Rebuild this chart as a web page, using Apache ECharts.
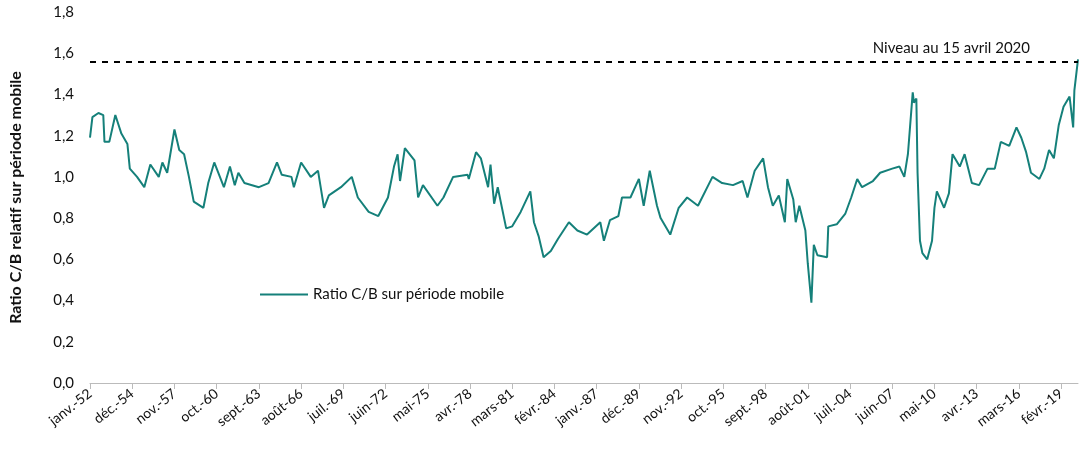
<!DOCTYPE html>
<html>
<head>
<meta charset="utf-8">
<script src="https://cdn.jsdelivr.net/npm/echarts@6/dist/echarts.min.js"></script>
<style>
  html, body { margin: 0; padding: 0; background: #fff; }
  #chart { width: 1080px; height: 452px; }
</style>
</head>
<body>
<div id="chart"></div>
<script>
// month abbreviations used for the category labels
var monthNames = ['janv.', 'févr.', 'mars', 'avr.', 'mai', 'juin', 'juil.', 'août', 'sept.', 'oct.', 'nov.', 'déc.'];
var startYear = 1952;
var monthCount = 820; // janv. 1952 -> avr. 2020

// months since janv. 1952 where the curve was read
var sampleMonths = [0, 2, 7, 11, 12, 16, 21, 26, 31, 33, 39, 45, 50, 57, 60, 64, 70, 74, 78, 82, 86, 94, 98, 103,
  111, 116, 120, 123, 128, 140, 148, 155, 159, 167, 169, 175, 183, 189, 194, 198, 208, 217, 222, 231, 239, 247,
  252, 255, 257, 261, 269, 272, 276, 288, 293, 301, 313, 314, 320, 324, 330, 332, 335, 338, 345, 350, 357, 361,
  365, 368, 372, 376, 382, 388, 397, 404, 412, 423, 426, 431, 438, 441, 448, 455, 459, 464, 470, 473, 481, 488,
  495, 504, 516, 524, 533, 541, 545, 551, 558, 562, 566, 571, 576, 578, 583, 585, 588, 593, 595, 598, 600, 603,
  611, 612, 619, 626, 631, 636, 640, 649, 655, 665, 671, 675, 678, 682, 683, 685, 686, 688, 690, 694, 698, 700,
  702, 708, 712, 715, 721, 725, 731, 737, 744, 750, 755, 762, 768, 772, 776, 780, 787, 791, 795, 799, 803, 807,
  812, 815, 816, 819];
// ratio values at those months
var sampleValues = [1.19, 1.29, 1.31, 1.30, 1.17, 1.17, 1.30, 1.21, 1.16, 1.04, 1.00, 0.95, 1.06, 1.00, 1.07, 1.02,
  1.23, 1.13, 1.11, 1.00, 0.88, 0.85, 0.97, 1.07, 0.95, 1.05, 0.96, 1.02, 0.97, 0.95, 0.97, 1.07, 1.01, 1.00, 0.95,
  1.07, 1.00, 1.03, 0.85, 0.91, 0.95, 1.00, 0.90, 0.83, 0.81, 0.90, 1.05, 1.11, 0.98, 1.14, 1.08, 0.90, 0.96, 0.86,
  0.90, 1.00, 1.01, 0.99, 1.12, 1.09, 0.95, 1.06, 0.87, 0.95, 0.75, 0.76, 0.83, 0.88, 0.93, 0.78, 0.71, 0.61, 0.64,
  0.70, 0.78, 0.74, 0.72, 0.78, 0.69, 0.79, 0.81, 0.90, 0.90, 0.99, 0.86, 1.03, 0.86, 0.80, 0.72, 0.85, 0.90, 0.86,
  1.00, 0.97, 0.96, 0.98, 0.90, 1.03, 1.09, 0.95, 0.86, 0.91, 0.78, 0.99, 0.89, 0.78, 0.86, 0.74, 0.58, 0.39, 0.67,
  0.62, 0.61, 0.76, 0.77, 0.82, 0.90, 0.99, 0.95, 0.98, 1.02, 1.04, 1.05, 1.00, 1.11, 1.41, 1.36, 1.38, 1.02, 0.69,
  0.63, 0.60, 0.69, 0.85, 0.93, 0.85, 0.92, 1.11, 1.05, 1.11, 0.97, 0.96, 1.04, 1.04, 1.17, 1.15, 1.24, 1.19, 1.12,
  1.02, 0.99, 1.04, 1.13, 1.09, 1.25, 1.34, 1.39, 1.24, 1.42, 1.57];
var currentLevel = 1.565;

var categories = [];
for (var i = 0; i < monthCount; i++) {
    var y = startYear + Math.floor(i / 12);
    categories.push(monthNames[i % 12] + '-' + String(y % 100).padStart(2, '0'));
}
var seriesData = [];
for (var j = 0; j < sampleMonths.length; j++) {
    seriesData.push([categories[sampleMonths[j]], sampleValues[j]]);
}

var myChart = echarts.init(document.getElementById('chart'));
var option = {
    animation: false,
    textStyle: { fontFamily: 'Lato' },
    grid: { left: 88, right: 2, top: 12, bottom: 69 },
    legend: {
        data: ['Ratio C/B sur période mobile'],
        left: 255, top: 282,
        itemWidth: 48, itemHeight: 2,
        icon: 'rect',
        textStyle: { fontSize: 15, color: '#111' }
    },
    xAxis: {
        type: 'category',
        data: categories,
        boundaryGap: false,
        axisLine: { lineStyle: { color: '#bbb' } },
        axisTick: { interval: 34, length: 6, lineStyle: { color: '#bbb' } },
        axisLabel: { interval: 34, rotate: 38, fontSize: 14, color: '#111', margin: 9 }
    },
    yAxis: {
        type: 'value',
        min: 0, max: 1.8, interval: 0.2,
        name: 'Ratio C/B relatif sur période mobile',
        nameLocation: 'middle',
        nameGap: 66,
        nameTextStyle: { fontSize: 16, color: '#111', fontWeight: 'bold' },
        axisLine: { show: false },
        splitLine: { show: false },
        axisLabel: {
            fontSize: 15, color: '#111', margin: 16,
            formatter: function (v) { return v.toFixed(1).replace('.', ','); }
        }
    },
    series: [{
        name: 'Ratio C/B sur période mobile',
        type: 'line',
        data: seriesData,
        showSymbol: false,
        lineStyle: { color: '#15807a', width: 2 },
        itemStyle: { color: '#15807a' },
        markLine: {
            symbol: 'none',
            silent: true,
            lineStyle: { color: '#000', type: [6, 6], width: 2 },
            label: {
                formatter: 'Niveau au 15 avril 2020',
                position: 'insideEndTop',
                distance: [48, 6],
                fontSize: 15, color: '#111'
            },
            data: [{ yAxis: currentLevel }]
        }
    }]
};
myChart.setOption(option);
</script>
</body>
</html>
